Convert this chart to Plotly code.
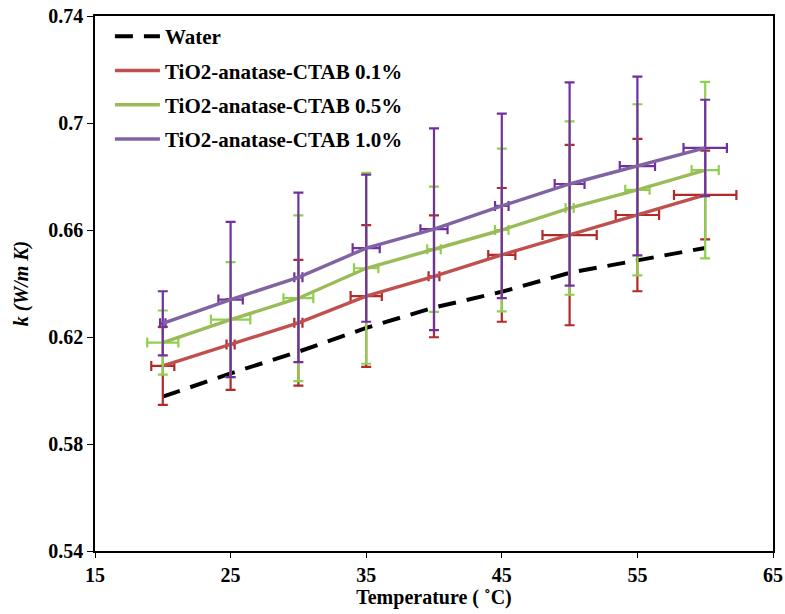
import plotly.graph_objects as go

temperature = [20, 25, 30, 35, 40, 45, 50, 55, 60]

water = [0.5977, 0.6064, 0.6145, 0.6234, 0.6310, 0.6369, 0.6440, 0.6488, 0.6533]

k_01 = [0.6092, 0.6172, 0.6253, 0.6353, 0.6427, 0.6507, 0.6581, 0.6656, 0.6731]
k_01_err_y = [0.0146, 0.0170, 0.0235, 0.0265, 0.0228, 0.0250, 0.0337, 0.0285, 0.0166]
k_01_err_x = [0.85, 0.3, 0.3, 1.15, 0.4, 1.0, 2.0, 1.6, 2.3]

k_05 = [0.6179, 0.6265, 0.6345, 0.6457, 0.6528, 0.6600, 0.6682, 0.6750, 0.6824]
k_05_err_y = [0.0120, 0.0215, 0.0310, 0.0357, 0.0234, 0.0304, 0.0324, 0.0320, 0.0330]
k_05_err_x = [1.15, 1.45, 1.1, 0.9, 0.5, 0.5, 0.3, 0.9, 1.0]

k_10 = [0.6251, 0.6340, 0.6423, 0.6532, 0.6603, 0.6690, 0.6772, 0.6839, 0.6907]
k_10_err_y = [0.0120, 0.0290, 0.0317, 0.0275, 0.0377, 0.0345, 0.0380, 0.0334, 0.0180]
k_10_err_x = [0.2, 0.9, 0.3, 1.0, 1.0, 0.5, 1.1, 1.3, 1.6]

names = ["Water", "TiO2-anatase-CTAB 0.1%", "TiO2-anatase-CTAB 0.5%", "TiO2-anatase-CTAB 1.0%"]

FONT = "Liberation Serif"

fig = go.Figure()

fig.add_trace(go.Scatter(
    x=temperature, y=water, mode="lines", name=names[0], legendgroup="a",
    line=dict(color="black", width=4, dash="18px,11px"),
))

series = [
    (k_01, k_01_err_y, k_01_err_x, names[1], "#C0504D", "#B02A2A", "b"),
    (k_05, k_05_err_y, k_05_err_x, names[2], "#9BBB59", "#8FD14F", "c"),
    (k_10, k_10_err_y, k_10_err_x, names[3], "#8064A2", "#7030A0", "d"),
]
for y, ey, ex, nm, lc, ec, grp in series:
    fig.add_trace(go.Scatter(
        x=temperature, y=y, mode="lines", name=nm, legendgroup=grp,
        line=dict(color=lc, width=3.4),
        error_y=dict(type="data", array=ey, visible=True, color=ec, thickness=2.2, width=5),
        error_x=dict(type="data", array=ex, visible=True, color=ec, thickness=2.2, width=5),
    ))

fig.update_layout(
    width=785, height=614,
    margin=dict(l=95, r=12, t=16, b=63),
    paper_bgcolor="white", plot_bgcolor="white",
    font=dict(family=FONT, size=20, color="black"),
    showlegend=True,
    legend=dict(
        x=0.022, y=1.0, xanchor="left", yanchor="top",
        bgcolor="rgba(0,0,0,0)", tracegroupgap=4,
        font=dict(family=FONT, size=21, color="black", weight="bold"),
        itemwidth=45,
    ),
)

fig.update_xaxes(
    range=[15, 65], tickvals=[15, 25, 35, 45, 55, 65],
    showline=True, linecolor="black", linewidth=1.5, mirror=True,
    ticks="outside", ticklen=5, tickcolor="black",
    showgrid=False, zeroline=False, automargin=False,
    tickfont=dict(family=FONT, size=20, weight="bold"),
    title=dict(text="Temperature ( ˚C)", standoff=0,
               font=dict(family=FONT, size=20, weight="bold")),
)
fig.update_yaxes(
    range=[0.54, 0.74], tickvals=[0.54, 0.58, 0.62, 0.66, 0.70, 0.74],
    ticktext=["0.54", "0.58", "0.62", "0.66", "0.7", "0.74"],
    showline=True, linecolor="black", linewidth=1.5, mirror=True,
    ticks="outside", ticklen=6, tickcolor="black",
    showgrid=False, zeroline=False, automargin=False,
    tickfont=dict(family=FONT, size=20, weight="bold"),
    title=dict(text="<i>k (W/m K)</i>", standoff=14,
               font=dict(family=FONT, size=20, weight="bold")),
)

fig.write_html("out.html")
